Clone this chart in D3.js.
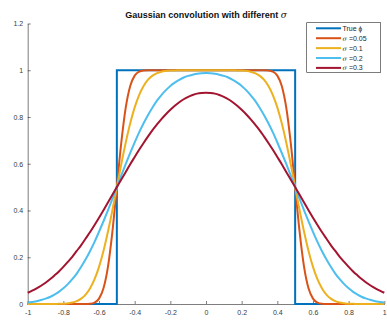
<!DOCTYPE html>
<html>
<head>
<meta charset="utf-8">
<script src="https://cdn.jsdelivr.net/npm/d3@7"></script>
<style>
  html, body { margin: 0; padding: 0; background: #fff; }
  svg { display: block; font-family: "Liberation Sans", Arial, Helvetica, sans-serif; }
</style>
</head>
<body>
<svg id="chart" width="387" height="320"></svg>
<script>
// Sample grid on [-1, 1]
const xs = [
  -1,-0.975,-0.95,-0.925,-0.9,-0.875,-0.85,-0.825,-0.8,-0.775,
  -0.75,-0.725,-0.7,-0.675,-0.65,-0.625,-0.6,-0.575,-0.55,-0.525,
  -0.5,-0.475,-0.45,-0.425,-0.4,-0.375,-0.35,-0.325,-0.3,-0.275,
  -0.25,-0.225,-0.2,-0.175,-0.15,-0.125,-0.1,-0.075,-0.05,-0.025,
  0,0.025,0.05,0.075,0.1,0.125,0.15,0.175,0.2,0.225,
  0.25,0.275,0.3,0.325,0.35,0.375,0.4,0.425,0.45,0.475,
  0.5,0.525,0.55,0.575,0.6,0.625,0.65,0.675,0.7,0.725,
  0.75,0.775,0.8,0.825,0.85,0.875,0.9,0.925,0.95,0.975,
  1
];

// Box function phi
const phiX = [-1, -0.5, -0.5, 0.5, 0.5, 1];
const phiY = [0, 0, 1, 1, 0, 0];

// Smoothed box, sigma = 0.05
const s005 = [
  0,0,0,0,0,0,0,0,0,0,
  0,0,0,0,0.001,0.006,0.023,0.067,0.159,0.309,
  0.5,0.691,0.841,0.933,0.977,0.994,0.999,1,1,1,
  1,1,1,1,1,1,1,1,1,1,
  1,1,1,1,1,1,1,1,1,1,
  1,1,1,1,0.999,0.994,0.977,0.933,0.841,0.691,
  0.5,0.309,0.159,0.067,0.023,0.006,0.001,0,0,0,
  0,0,0,0,0,0,0,0,0,0,
  0
];

// sigma = 0.1
const s01 = [
  0,0,0,0,0,0,0,0.001,0.001,0.003,
  0.006,0.012,0.023,0.040,0.067,0.106,0.159,0.227,0.309,0.401,
  0.5,0.599,0.691,0.773,0.841,0.894,0.933,0.960,0.977,0.988,
  0.994,0.997,0.999,0.999,1,1,1,1,1,1,
  1,1,1,1,1,1,1,0.999,0.999,0.997,
  0.994,0.988,0.977,0.960,0.933,0.894,0.841,0.773,0.691,0.599,
  0.5,0.401,0.309,0.227,0.159,0.106,0.067,0.040,0.023,0.012,
  0.006,0.003,0.001,0.001,0,0,0,0,0,0,
  0
];

// sigma = 0.2
const s02 = [
  0.006,0.009,0.012,0.017,0.023,0.030,0.040,0.052,0.067,0.085,
  0.106,0.130,0.159,0.191,0.227,0.266,0.309,0.354,0.401,0.450,
  0.5,0.550,0.599,0.646,0.691,0.734,0.773,0.809,0.841,0.870,
  0.894,0.915,0.933,0.947,0.959,0.969,0.976,0.981,0.985,0.987,
  0.988,0.987,0.985,0.981,0.976,0.969,0.959,0.947,0.933,0.915,
  0.894,0.870,0.841,0.809,0.773,0.734,0.691,0.646,0.599,0.550,
  0.5,0.450,0.401,0.354,0.309,0.266,0.227,0.191,0.159,0.130,
  0.106,0.085,0.067,0.052,0.040,0.030,0.023,0.017,0.012,0.009,
  0.006
];

// sigma = 0.3
const s03 = [
  0.048,0.057,0.067,0.078,0.091,0.106,0.122,0.139,0.159,0.180,
  0.202,0.227,0.252,0.280,0.308,0.338,0.369,0.401,0.434,0.467,
  0.5,0.533,0.565,0.598,0.629,0.660,0.689,0.717,0.744,0.768,
  0.791,0.812,0.831,0.848,0.863,0.876,0.886,0.894,0.900,0.903,
  0.904,0.903,0.900,0.894,0.886,0.876,0.863,0.848,0.831,0.812,
  0.791,0.768,0.744,0.717,0.689,0.660,0.629,0.598,0.565,0.533,
  0.5,0.467,0.434,0.401,0.369,0.338,0.308,0.280,0.252,0.227,
  0.202,0.180,0.159,0.139,0.122,0.106,0.091,0.078,0.067,0.057,
  0.048
];

const seriesNames = ["True \u03d5", "\u03c3 =0.05", "\u03c3 =0.1", "\u03c3 =0.2", "\u03c3 =0.3"];
const seriesColors = ["#0072BD", "#D95319", "#EDB120", "#4DBEEE", "#A2142F"];

const xTicks = [-1, -0.8, -0.6, -0.4, -0.2, 0, 0.2, 0.4, 0.6, 0.8, 1];
const xTickLabels = ["-1", "-0.8", "-0.6", "-0.4", "-0.2", "0", "0.2", "0.4", "0.6", "0.8", "1"];
const yTicks = [0, 0.2, 0.4, 0.6, 0.8, 1, 1.2];
const yTickLabels = ["0", "0.2", "0.4", "0.6", "0.8", "1", "1.2"];

const svg = d3.select("#chart");
const W = 387, H = 320;
const plot = { left: 27.7, right: 384.3, top: 23.5, bottom: 304 };

const x = d3.scaleLinear().domain([-1, 1]).range([plot.left, plot.right]);
const y = d3.scaleLinear().domain([0, 1.2]).range([plot.bottom, plot.top]);

svg.append("rect").attr("width", W).attr("height", H).attr("fill", "#fff");

const axisColor = "#262626";

// Bottom axis with inward ticks
const xAxis = d3.axisBottom(x).tickValues(xTicks)
  .tickFormat((d, i) => xTickLabels[i]).tickSizeInner(-3).tickSizeOuter(0).tickPadding(6);
const gx = svg.append("g").attr("transform", `translate(0,${plot.bottom})`).call(xAxis);

// Left axis with inward ticks
const yAxis = d3.axisLeft(y).tickValues(yTicks)
  .tickFormat((d, i) => yTickLabels[i]).tickSizeInner(-3).tickSizeOuter(0).tickPadding(4.5);
const gy = svg.append("g").attr("transform", `translate(${plot.left},0)`).call(yAxis);

[gx, gy].forEach(g => {
  g.select(".domain").attr("stroke", axisColor).attr("stroke-width", 0.6);
  g.selectAll(".tick line").attr("stroke", axisColor).attr("stroke-width", 0.6);
  g.selectAll(".tick text").attr("fill", "#3a3a3a").attr("font-size", 7)
    .attr("font-family", "Liberation Sans, Arial, sans-serif");
});

// Curves
const line = d3.line().x(d => x(d[0])).y(d => y(d[1]));
const smooth = d3.line().x(d => x(d[0])).y(d => y(d[1])).curve(d3.curveMonotoneX);

const plotG = svg.append("g");
plotG.append("path")
  .datum(phiX.map((v, i) => [v, phiY[i]]))
  .attr("d", line).attr("fill", "none")
  .attr("stroke", seriesColors[0]).attr("stroke-width", 2);

[s005, s01, s02, s03].forEach((vals, si) => {
  plotG.append("path")
    .datum(xs.map((v, i) => [v, vals[i]]))
    .attr("d", smooth).attr("fill", "none")
    .attr("stroke", seriesColors[si + 1]).attr("stroke-width", 2)
    .attr("stroke-linejoin", "round");
});

// Title
const title = svg.append("text")
  .attr("x", (plot.left + plot.right) / 2).attr("y", 17.5)
  .attr("text-anchor", "middle").attr("font-size", 9).attr("font-weight", "bold")
  .attr("fill", "#111");
title.append("tspan").text("Gaussian convolution with different ");
title.append("tspan").attr("font-style", "italic").attr("font-weight", "normal")
  .attr("font-family", "DejaVu Serif, serif").text("\u03c3");

// Legend
const leg = svg.append("g");
leg.append("rect")
  .attr("x", 306.7).attr("y", 22.7).attr("width", 74).attr("height", 49.6)
  .attr("fill", "#fff").attr("stroke", axisColor).attr("stroke-width", 0.6);

const rowY = [28.3, 38.2, 48.1, 58, 67.9];
seriesNames.forEach((name, i) => {
  leg.append("line")
    .attr("x1", 316).attr("x2", 341).attr("y1", rowY[i]).attr("y2", rowY[i])
    .attr("stroke", seriesColors[i]).attr("stroke-width", 2);
  const t = leg.append("text").attr("x", 342.5).attr("y", rowY[i] + 2.5)
    .attr("font-size", 7).attr("fill", "#262626");
  if (i === 0) {
    t.append("tspan").text("True ");
    t.append("tspan").attr("font-size", 6.5).text("\u03d5");
  } else {
    const parts = name.split(" ");
    t.append("tspan").attr("font-style", "italic").attr("font-family", "DejaVu Serif, serif")
      .attr("font-size", 6.5).text(parts[0]);
    t.append("tspan").text(" " + parts[1]);
  }
});
</script>
</body>
</html>
